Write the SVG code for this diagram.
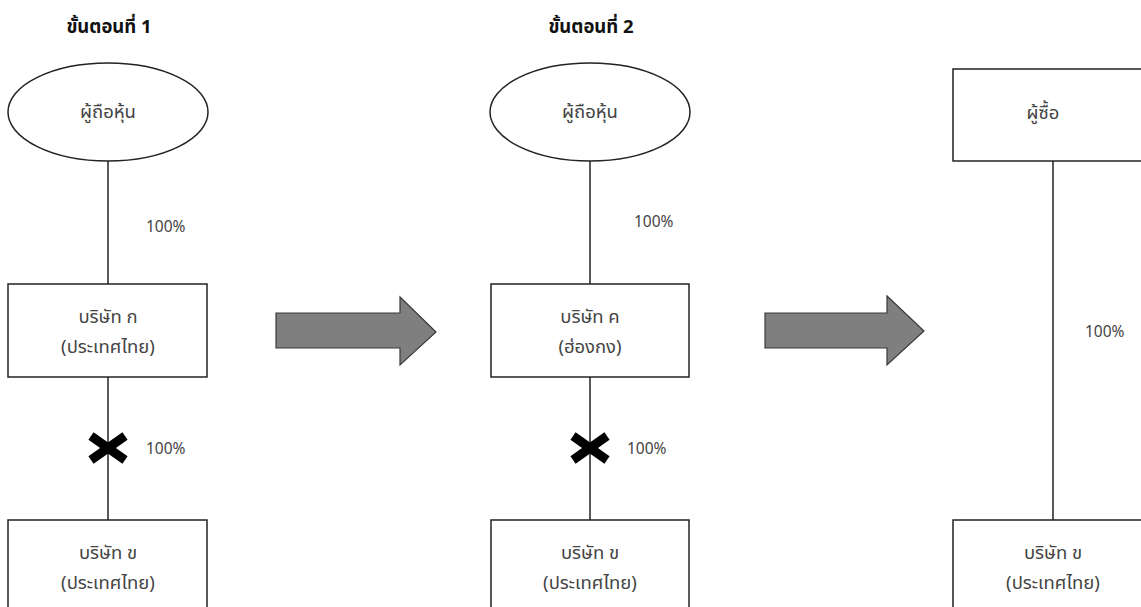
<svg xmlns="http://www.w3.org/2000/svg" width="1141" height="607" viewBox="0 0 1141 607">
<style>
.shape{fill:#ffffff;stroke:#222222;stroke-width:1.5}
.conn{stroke:#000000;stroke-width:1.3;fill:none}
.lbl{font-family:"Noto Sans Thai","Noto Sans","DejaVu Sans",sans-serif;font-size:18.5px;fill:#444444;text-anchor:middle;dominant-baseline:central}
.pct{font-family:"Noto Sans","Liberation Sans",sans-serif;font-size:15.5px;fill:#444444;dominant-baseline:central}
.title{font-family:"Noto Sans Thai","Noto Sans","DejaVu Sans",sans-serif;font-size:18.5px;font-weight:bold;fill:#111111;text-anchor:middle;dominant-baseline:central}
.arrow{fill:#7f7f7f;stroke:#3a3a3a;stroke-width:1.2}
.cross{stroke:#000000;stroke-width:9;stroke-linecap:butt}
</style>
<rect width="1141" height="607" fill="#ffffff"/>
<g id="connectors">
<line class="conn" x1="108" y1="161" x2="108" y2="284"/>
<line class="conn" x1="108" y1="377" x2="108" y2="520"/>
<line class="conn" x1="590" y1="161" x2="590" y2="284"/>
<line class="conn" x1="590" y1="377" x2="590" y2="520"/>
<line class="conn" x1="1053" y1="161" x2="1053" y2="520"/>
<g id="cross1"><line class="cross" x1="91" y1="436" x2="125" y2="460"/><line class="cross" x1="91" y1="460" x2="125" y2="436"/></g>
<g id="cross2"><line class="cross" x1="573" y1="436" x2="607" y2="460"/><line class="cross" x1="573" y1="460" x2="607" y2="436"/></g>
<text class="pct" x="146" y="226">100%</text>
<text class="pct" x="146" y="448">100%</text>
<text class="pct" x="634" y="221">100%</text>
<text class="pct" x="627" y="448">100%</text>
<text class="pct" x="1085" y="331">100%</text>
</g>
<g id="title1"><text class="title" x="109" y="27">ขั้นตอนที่ 1</text></g>
<g id="title2"><text class="title" x="591" y="27">ขั้นตอนที่ 2</text></g>
<g id="shareholder1"><ellipse class="shape" cx="108" cy="112" rx="100" ry="49"/><text class="lbl" x="108" y="112">ผู้ถือหุ้น</text></g>
<g id="companyA"><rect class="shape" x="8" y="284" width="199" height="93"/><text class="lbl" x="108" y="317">บริษัท ก</text><text class="lbl" x="108" y="347">(ประเทศไทย)</text></g>
<g id="companyB1"><rect class="shape" x="8" y="520" width="199" height="100"/><text class="lbl" x="108" y="553">บริษัท ข</text><text class="lbl" x="108" y="583">(ประเทศไทย)</text></g>
<g id="arrow1"><polygon class="arrow" points="276,313 400,313 400,297 436,332 400,365 400,348 276,348"/></g>
<g id="shareholder2"><ellipse class="shape" cx="590" cy="112" rx="100" ry="49"/><text class="lbl" x="590" y="112">ผู้ถือหุ้น</text></g>
<g id="companyC"><rect class="shape" x="491" y="284" width="198" height="93"/><text class="lbl" x="590" y="317">บริษัท ค</text><text class="lbl" x="590" y="347">(ฮ่องกง)</text></g>
<g id="companyB2"><rect class="shape" x="491" y="520" width="198" height="100"/><text class="lbl" x="590" y="553">บริษัท ข</text><text class="lbl" x="590" y="583">(ประเทศไทย)</text></g>
<g id="arrow2"><polygon class="arrow" points="765,313 887,313 887,296 924,331 887,365 887,348 765,348"/></g>
<g id="buyer"><rect class="shape" x="953" y="69" width="200" height="92"/><text class="lbl" x="1043" y="113">ผู้ซื้อ</text></g>
<g id="companyB3"><rect class="shape" x="953" y="520" width="200" height="100"/><text class="lbl" x="1053" y="553">บริษัท ข</text><text class="lbl" x="1053" y="583">(ประเทศไทย)</text></g>
</svg>
